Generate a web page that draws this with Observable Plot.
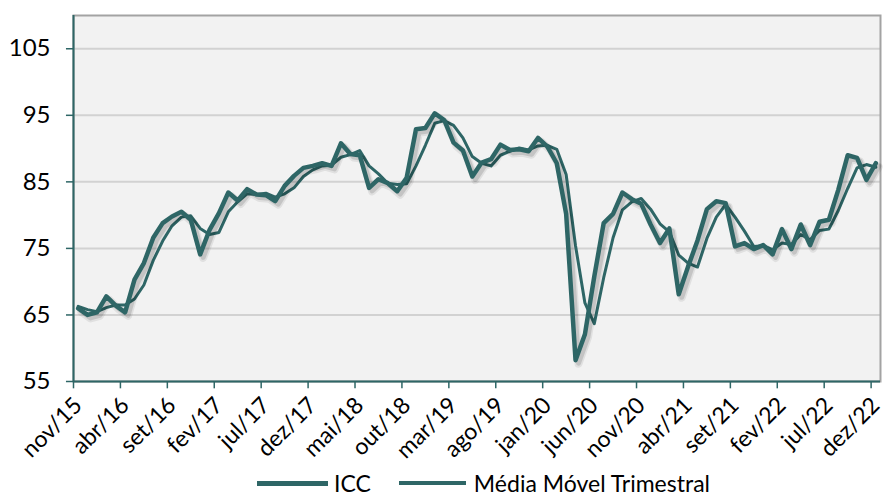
<!DOCTYPE html>
<html><head><meta charset="utf-8">
<script src="https://cdn.jsdelivr.net/npm/d3@7"></script>
<script src="https://cdn.jsdelivr.net/npm/@observablehq/plot@0.6"></script>
<style>
html,body{margin:0;padding:0;background:#fff;}
#wrap{position:relative;width:885px;height:496px;font-family:"Lato",sans-serif;}
#legend{position:absolute;left:257px;top:471px;height:24px;line-height:24px;display:flex;align-items:center;font-size:23px;color:#000;white-space:nowrap;}
#legend .sw{display:inline-block;background:#2e6666;}
</style></head><body>
<div id="wrap"><div id="chart"></div>
<div id="legend"><span class="sw" style="width:71px;height:5px;margin-right:6px"></span><span>ICC</span><span class="sw" style="width:67px;height:3.5px;margin-left:28px;margin-right:8px"></span><span>Média Móvel Trimestral</span></div>
</div>
<script>
const months = ["nov/15","dez/15",
"jan/16","fev/16","mar/16","abr/16","mai/16","jun/16","jul/16","ago/16","set/16","out/16","nov/16","dez/16",
"jan/17","fev/17","mar/17","abr/17","mai/17","jun/17","jul/17","ago/17","set/17","out/17","nov/17","dez/17",
"jan/18","fev/18","mar/18","abr/18","mai/18","jun/18","jul/18","ago/18","set/18","out/18","nov/18","dez/18",
"jan/19","fev/19","mar/19","abr/19","mai/19","jun/19","jul/19","ago/19","set/19","out/19","nov/19","dez/19",
"jan/20","fev/20","mar/20","abr/20","mai/20","jun/20","jul/20","ago/20","set/20","out/20","nov/20","dez/20",
"jan/21","fev/21","mar/21","abr/21","mai/21","jun/21","jul/21","ago/21","set/21","out/21","nov/21","dez/21",
"jan/22","fev/22","mar/22","abr/22","mai/22","jun/22","jul/22","ago/22","set/22","out/22","nov/22","dez/22"];

const icc = [66.0,65.0,
65.4,67.8,66.4,65.4,70.3,72.8,76.6,78.8,79.8,80.5,79.3,74.1,
77.8,80.3,83.4,82.2,83.9,83.1,83.0,82.1,84.4,85.9,87.1,87.4,
87.8,87.4,90.8,89.2,89.0,84.1,85.4,84.8,83.6,85.6,92.9,93.1,
95.3,94.3,90.9,89.7,85.8,87.9,88.4,90.6,89.8,89.9,89.6,91.6,
90.3,87.8,80.2,58.2,62.1,70.8,78.8,80.2,83.4,82.4,81.7,78.6,
75.8,78.0,68.1,72.3,76.2,80.9,82.1,81.8,75.3,75.8,74.9,75.5,
74.1,77.9,74.9,78.6,75.5,79.0,79.3,83.8,89.0,88.6,85.3,87.8];

const mediaMovel = [66.3,65.8,
65.5,66.1,66.5,66.5,67.4,69.5,73.2,76.1,78.4,79.7,79.9,78.0,
77.1,77.4,80.5,82.0,83.2,83.1,83.3,82.7,83.2,84.1,85.8,86.8,
87.4,87.5,88.7,89.1,89.7,87.4,86.2,84.8,84.6,84.7,87.4,90.5,
93.8,94.2,93.5,91.6,88.8,87.8,87.4,89.0,89.6,90.1,89.8,90.4,
90.5,89.9,86.1,75.4,66.8,63.7,70.6,76.6,80.8,82.0,82.5,80.9,
78.7,77.5,74.0,72.8,72.2,76.5,79.7,81.6,79.7,77.6,75.3,75.4,
74.8,75.8,75.6,77.1,76.3,77.7,77.9,80.7,84.0,87.1,87.6,87.2];

const tickLabels = ["nov/15","abr/16","set/16","fev/17","jul/17","dez/17","mai/18","out/18","mar/19","ago/19","jan/20","jun/20","nov/20","abr/21","set/21","fev/22","jul/22","dez/22"];
const yTicks = [55,65,75,85,95,105];

const data = months.map((m, i) => ({i, m, icc: icc[i], mm: mediaMovel[i]}));
const tickIdx = tickLabels.map(t => months.indexOf(t));
const teal = "#2e6666";
const font = '"Lato",sans-serif';

const chart = Plot.plot({
  width: 885, height: 472,
  marginLeft: 73, marginRight: 5, marginTop: 15, marginBottom: 91,
  x: {type: "linear", domain: [-0.5, months.length - 0.5], axis: null},
  y: {domain: [55, 110], axis: null},
  style: {fontFamily: font, overflow: "visible", background: "transparent", color: "#000"},
  marks: [
    Plot.frame({fill: "#f2f2f2"}),
    Plot.ruleY(yTicks.slice(1), {stroke: "#d2d2d2", strokeWidth: 2}),
    Plot.frame({stroke: "#a3a3a3", strokeWidth: 2}),
    Plot.line(data, {x: "i", y: "mm", stroke: teal, strokeWidth: 3}),
    Plot.line(data, {x: "i", y: "icc", dx: 3, dy: 3.5, stroke: "#000", strokeOpacity: 0.07, strokeWidth: 8}),
    Plot.line(data, {x: "i", y: "icc", dx: 3, dy: 3, stroke: "#000", strokeOpacity: 0.12, strokeWidth: 5}),
    Plot.line(data, {x: "i", y: "icc", stroke: teal, strokeWidth: 4.5}),
    Plot.ruleX([-0.5], {stroke: teal, strokeWidth: 2}),
    Plot.ruleY([55], {stroke: teal, strokeWidth: 2}),
    Plot.ruleX(tickIdx, {x: d => d - 0.5, y1: 55, y2: 53.9, stroke: teal, strokeWidth: 1.5}),
    Plot.ruleY(yTicks, {y: d => d, x1: -0.5, x2: -1.25, stroke: teal, strokeWidth: 1.5}),
    Plot.text(yTicks, {y: d => d, x: -0.5, text: d => String(d), textAnchor: "end", dx: -23, fontSize: 24, fill: "#000"}),
    Plot.text(tickIdx, {x: d => d, y: 55, text: d => months[d], rotate: -45, textAnchor: "end", dx: 0, dy: 20, fontSize: 23, fill: "#000"})
  ]
});
document.getElementById("chart").appendChild(chart);
</script>
</body></html>
